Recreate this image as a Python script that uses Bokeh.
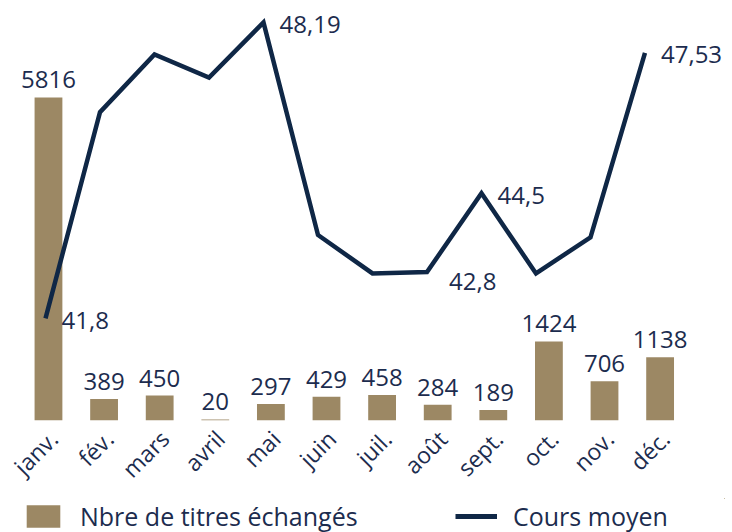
import math
from bokeh.plotting import figure
from bokeh.layouts import column
from bokeh.models import (ColumnDataSource, Range1d, LinearAxis, FixedTicker,
                          Legend, LegendItem)
from bokeh.embed import file_html
from bokeh.resources import INLINE
from bokeh.core.properties import value

# ---- data ----
months = ["janv.", "fév.", "mars", "avril", "mai", "juin",
          "juil.", "août", "sept.", "oct.", "nov.", "déc."]
volumes = [5816, 389, 450, 20, 297, 429, 458, 284, 189, 1424, 706, 1138]
prices = [41.8, 46.25, 47.5, 47.0, 48.19, 43.6, 42.77, 42.8, 44.5, 42.77, 43.55, 47.53]
price_labels = ["41,8", "", "", "", "48,19", "", "", "42,8", "44,5", "", "", "47,53"]
series_names = ["Nbre de titres échangés", "Cours moyen"]

# ---- styles ----
BAR = "#9c8864"
NAVY = "#0f2746"
TXT = "#1c2c4e"
FONT = "Open Sans"
LOWER_LABEL_MONTHS = {"août"}

idx = list(range(len(months)))
bar_src = ColumnDataSource(dict(x=idx, v=volumes, t=[str(v) for v in volumes]))
line_src = ColumnDataSource(dict(x=idx, p=prices))

side_x = [i for i in idx if price_labels[i] and months[i] not in LOWER_LABEL_MONTHS]
low_x = [i for i in idx if price_labels[i] and months[i] in LOWER_LABEL_MONTHS]
side_src = ColumnDataSource(dict(x=side_x, p=[prices[i] for i in side_x],
                                 t=[price_labels[i] for i in side_x]))
low_src = ColumnDataSource(dict(x=low_x, p=[prices[i] for i in low_x],
                                t=[price_labels[i] for i in low_x]))

# ---- main chart ----
p = figure(frame_width=716, frame_height=412,
           x_range=Range1d(-0.719, 12.158), y_range=Range1d(0, 7418),
           x_axis_location=None, y_axis_location=None,
           output_backend="svg", toolbar_location=None,
           min_border_left=8, min_border_top=8, min_border_right=8, min_border_bottom=0)
p.extra_x_ranges = {"line": Range1d(-0.679, 12.459),
                    "lab": Range1d(-0.719 - 0.09, 12.158 - 0.09)}
p.extra_y_ranges = {"line": Range1d(39.594, 48.49)}
p.outline_line_color = None
p.grid.visible = False

p.vbar(x="x", top="v", width=0.5, source=bar_src, fill_color=BAR, line_color=None)
p.text(x="x", y="v", text="t", source=bar_src, text_align="center", text_baseline="bottom",
       y_offset=-9, text_font=value(FONT), text_font_size="24px", text_color=TXT)
p.line(x="x", y="p", source=line_src, x_range_name="line", y_range_name="line",
       line_color=NAVY, line_width=4.5, line_join="miter")
p.text(x="x", y="p", text="t", source=side_src, x_range_name="line", y_range_name="line",
       text_align="left", text_baseline="middle", x_offset=16, y_offset=2,
       text_font=value(FONT), text_font_size="24px", text_color=TXT)
p.text(x="x", y="p", text="t", source=low_src, x_range_name="line", y_range_name="line",
       text_align="left", text_baseline="middle", x_offset=22, y_offset=9,
       text_font=value(FONT), text_font_size="24px", text_color=TXT)

ax = LinearAxis(x_range_name="lab", ticker=FixedTicker(ticks=idx),
                major_label_overrides={i: m for i, m in enumerate(months)},
                major_label_orientation=math.pi / 4,
                axis_line_color=None, major_tick_line_color=None, minor_tick_line_color=None,
                major_tick_out=0, major_tick_in=0, major_label_standoff=14,
                major_label_text_font=FONT, major_label_text_font_size="23px",
                major_label_text_color=TXT)
p.add_layout(ax, "below")

# ---- legend strip (same series, placed outside its view so only the legend shows) ----
lg = figure(width=732, height=35, x_range=Range1d(-101, -100), y_range=Range1d(-101, -100),
            x_axis_location=None, y_axis_location=None,
            output_backend="svg", toolbar_location=None, min_border=0)
lg.outline_line_color = None
lg.grid.visible = False
rb = lg.vbar(x="x", top="v", width=0.5, source=bar_src, fill_color=BAR, line_color=None)
rl = lg.line(x="x", y="p", source=line_src, line_color=NAVY, line_width=5)

legend = Legend(items=[LegendItem(label=series_names[0], renderers=[rb]),
                       LegendItem(label=series_names[1], renderers=[rl])],
                orientation="horizontal", location=(14, 0),
                glyph_width=42, glyph_height=28, label_standoff=16,
                spacing=10, label_width=365, padding=0, margin=0,
                border_line_color=None, background_fill_alpha=0,
                label_text_font=FONT, label_text_font_size="25px",
                label_text_color=TXT)
lg.add_layout(legend, "center")

layout = column(p, lg, spacing=0)
open("out.html", "w").write(file_html(layout, INLINE))
